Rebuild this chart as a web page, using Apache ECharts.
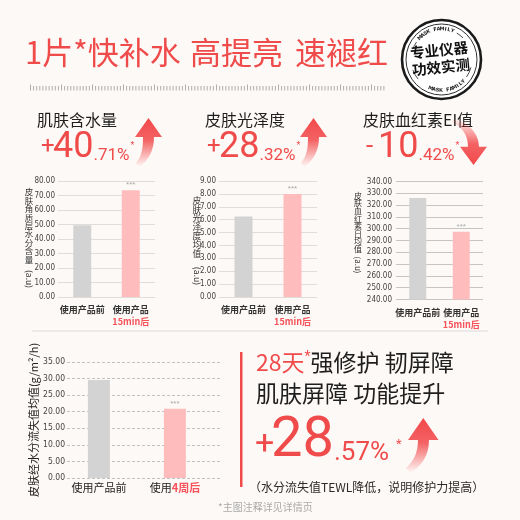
<!DOCTYPE html>
<html><head><meta charset="utf-8">
<script src="https://cdn.jsdelivr.net/npm/echarts@6/dist/echarts.min.js"></script>
<style>html,body{margin:0;padding:0;background:#fdf9f6}#c{width:520px;height:520px}</style>
</head><body><div id="c"></div>
<script>
// ---------- data ----------
const catsTop = ['使用产品前', '使用产品\n15min后'];
const hydration = [49.5, 73.6];      // 皮肤角质层水分含量 (a.u)
const gloss = [6.25, 8.0];            // 皮肤光泽度均值 (a.u)
const erythema = [326, 297.5];        // 皮肤血红素EI均值 (a.u)
const catsTewl = ['使用产品前', '使用4周后'];
const tewl = [29.6, 20.9];            // 皮肤经水分流失值均值 (g/m²/h)
const yRange1 = [0, 80, 10];
const yRange2 = [0, 9, 1];
const yRange3 = [240, 340, 10];
const yRange4 = [0, 35, 5];

// ---------- styles ----------
const RED = '#f04b4b';
const CJK = '"Noto Sans CJK SC", sans-serif';
const NUM = 'Roboto, sans-serif';
const NARROW = '"DejaVu Sans Condensed", sans-serif';
const barColors = ['#d3d3d3', '#ffbcbd'];

const chart = echarts.init(document.getElementById('c'), null, {renderer: 'canvas'});

function t(x, y, text, size, color, extra) {
  const st = Object.assign({text: text, fontSize: size, fill: color, fontFamily: CJK,
    align: 'left', textAlign: 'left', verticalAlign: 'middle', textVerticalAlign: 'middle'}, extra || {});
  return {type: 'text', x: x, y: y, style: st, silent: true};
}

function topLabel(v) {
  const p = v.split('\n');
  return p.length > 1 ? p[0] + '\n{r|' + p[1] + '}' : v;
}

function yAxis(gi, r, dashed, color, size) {
  return {
    type: 'value', gridIndex: gi, min: r[0], max: r[1], interval: r[2],
    axisLine: {show: false}, axisTick: {show: false},
    axisLabel: {fontFamily: NARROW, fontSize: size || 8, color: '#444', margin: gi === 3 ? 2 : (gi === 2 ? 4 : 3),
      formatter: v => v.toFixed(2)},
    splitLine: {lineStyle: {color: color, width: 1, type: dashed ? [3, 2] : 'solid'}}
  };
}

function xTop(gi) {
  return {
    type: 'category', gridIndex: gi, data: catsTop,
    axisLine: {show: false}, axisTick: {show: false},
    axisLabel: {interval: 0, margin: 7, fontSize: 9, fontWeight: 'bold', color: '#333', fontFamily: CJK, lineHeight: 12,
      formatter: topLabel,
      rich: {r: {color: '#f5525a', fontSize: 9, fontWeight: 'bold', fontFamily: CJK, lineHeight: 12}}}
  };
}

function barData(vals) {
  return vals.map((v, i) => ({
    value: v, itemStyle: {color: barColors[i]},
    label: i === 1 ? {show: true, position: 'top', distance: 1, formatter: '***', fontSize: 8, color: '#aaa'} : {show: false}
  }));
}

// ---------- decoration ----------
const deco = [];
// title
deco.push(t(25, 52, '1片*快补水', 31, RED));
deco.push(t(190, 52, '高提亮', 31, RED));
deco.push(t(295, 52, '速褪红', 31, RED));
// ruler
for (let i = 0; i <= 114; i++) {
  const x = 30.5 + i * 3.1;
  const tall = i % 10 === 0;
  deco.push({type: 'line', silent: true, shape: {x1: x, y1: tall ? 84.5 : 86, x2: x, y2: 90.5},
    style: {stroke: '#9a9a9a', lineWidth: 0.8}});
}
// stamp
const scx = 441.5, scy = 59.5;
deco.push({type: 'circle', silent: true, shape: {cx: scx, cy: scy, r: 39.5}, style: {fill: '#fff', stroke: '#1a1a1a', lineWidth: 2.6}});
deco.push({type: 'circle', silent: true, shape: {cx: scx, cy: scy, r: 35.5}, style: {fill: 'none', stroke: '#1a1a1a', lineWidth: 0.9}});
function arcText(str, r, centerDeg, spanDeg, top) {
  const n = str.length;
  for (let i = 0; i < n; i++) {
    const f = (i + 0.5) / n - 0.5;
    const deg = top ? centerDeg - f * spanDeg : centerDeg + f * spanDeg;
    const a = deg * Math.PI / 180;
    deco.push({type: 'text', silent: true, x: scx + r * Math.cos(a), y: scy - r * Math.sin(a),
      rotation: top ? a - Math.PI / 2 : a - 1.5 * Math.PI,
      style: {text: str[i], fontSize: 5, fontWeight: 'bold', fill: '#1a1a1a', fontFamily: 'DejaVu Sans, sans-serif',
        align: 'center', textAlign: 'center', verticalAlign: 'middle', textVerticalAlign: 'middle'}});
  }
}
arcText('MASK FAMILY', 30.5, 102, 72, true);
arcText('MASK FAMILY', 31, 282, 72, false);
function sArc(d1, d2, r) {
  deco.push({type: 'arc', silent: true, shape: {cx: scx, cy: scy, r: r, startAngle: -d2 * Math.PI / 180, endAngle: -d1 * Math.PI / 180},
    style: {stroke: '#1a1a1a', lineWidth: 0.8, fill: 'none'}});
}
sArc(145, 160, 30.5); sArc(45, 60, 30.5); sArc(200, 220, 30.5); sArc(325, 345, 30.5);
deco.push({type: 'text', silent: true, x: 439, y: 50, rotation: 0.1,
  style: {text: '专业仪器', fontSize: 14.5, fontWeight: 'bold', fill: '#111', fontFamily: CJK, align: 'center', textAlign: 'center', verticalAlign: 'middle', textVerticalAlign: 'middle'}});
deco.push({type: 'text', silent: true, x: 441, y: 67, rotation: 0.1,
  style: {text: '功效实测', fontSize: 14.5, fontWeight: 'bold', fill: '#111', fontFamily: CJK, align: 'center', textAlign: 'center', verticalAlign: 'middle', textVerticalAlign: 'middle'}});

// panel headers
deco.push(t(37, 120, '肌肤含水量', 16, '#1e1e1e'));
deco.push(t(205, 120, '皮肤光泽度', 16, '#1e1e1e'));
deco.push(t(363, 120, '皮肤血红素EI值', 16, '#1e1e1e'));
// percentages
function pct(x0, sign, big, small, yc, bs, ss, signSize) {
  deco.push(t(x0, yc - 1, sign, signSize, RED, {fontFamily: NUM}));
  deco.push(t(x0 + 12, yc, big, bs, RED, {fontFamily: NUM}));
  const bw = big.length * 0.5615 * bs;
  deco.push(t(x0 + 12 + bw, yc + 8, small, ss, RED, {fontFamily: NUM}));
  const sw = (0.263 + (small.length - 2) * 0.5615 + 0.732) * ss;
  deco.push(t(x0 + 12 + bw + sw + 1, yc - 2, '*', 9, RED, {fontFamily: NUM}));
}
pct(41, '+', '40', '.71%', 148, 36, 17, 24);
pct(207, '+', '28', '.32%', 148, 36, 17, 24);
pct(366, '-', '10', '.42%', 148, 36, 17, 26);

// arrows (registered path shapes)
function grad(down) {
  return new echarts.graphic.LinearGradient(0, 0, 0, 1, down ?
    [{offset: 0, color: 'rgba(242,72,74,0)'}, {offset: 0.55, color: 'rgba(242,72,74,0.85)'}, {offset: 1, color: '#f2484a'}] :
    [{offset: 0, color: '#f2484a'}, {offset: 0.45, color: 'rgba(242,72,74,0.85)'}, {offset: 1, color: 'rgba(242,72,74,0)'}]);
}
const arrowPaths = [
  ['arrowA', 'M148.5,118 L162,137 L154,137 C154,150 149,160 139,167 L136,163 C142,156 143,148 143,137 L135,137 Z', false],
  ['arrowB', 'M313.5,118 L327,137 L319,137 C319,150 314,160 304,167 L301,163 C307,156 308,148 308,137 L300,137 Z', false],
  ['arrowC', 'M473.5,165 L460,146.7 L468,146.7 C468,135 462,127 452,122 L455,118 C468,123 479,133 479,146.7 L487,146.7 Z', true],
  ['arrowD', 'M423.3,418 L438.5,440 L429,440 C429,455 422,466 410,473 L406,468 C414,461 418,452 418,440 L408,440 Z', false]
];
arrowPaths.forEach(p => {
  echarts.graphic.registerShape(p[0], echarts.graphic.extendPath(p[1], {}));
  deco.push({type: p[0], silent: true, style: {fill: grad(p[2])}});
});

// vertical axis names (panels 1-3)
function vName(x, y, chars, lh, size, auY) {
  deco.push({type: 'text', silent: true, x: x, y: y,
    style: {text: chars.split('').join('\n'), fontSize: size, lineHeight: lh, fill: '#333', fontFamily: CJK,
      align: 'center', textAlign: 'center', verticalAlign: 'top', textVerticalAlign: 'top'}});
  deco.push({type: 'text', silent: true, x: x, y: auY, rotation: -Math.PI / 2,
    style: {text: '(a.u)', fontSize: size, fill: '#333', fontFamily: CJK,
      align: 'center', textAlign: 'center', verticalAlign: 'middle', textVerticalAlign: 'middle'}});
}
vName(29, 188, '皮肤角质层水分含量', 8.4, 8.5, 279);
vName(197, 196, '皮肤光泽度均值', 8.8, 8.8, 276);
vName(358, 192, '皮肤血红素日均值', 7.6, 8, 265);

// separator
deco.push({type: 'line', silent: true, shape: {x1: 32, y1: 331, x2: 488, y2: 331}, style: {stroke: '#dcdcdc', lineWidth: 1}});
// bottom right block
deco.push({type: 'rect', silent: true, shape: {x: 240, y: 352, width: 2.5, height: 135}, style: {fill: RED}});
deco.push({type: 'text', silent: true, x: 256, y: 362,
  style: {text: '{r|28天}{s|*}{d|强修护 韧屏障}', fontFamily: CJK, align: 'left', textAlign: 'left', verticalAlign: 'middle', textVerticalAlign: 'middle',
    rich: {r: {fontSize: 23, fill: RED, fontFamily: CJK}, s: {fontSize: 14, fill: RED, fontFamily: NUM, verticalAlign: 'top', padding: [0, 0, 8, 0]}, d: {fontSize: 23, fill: '#1e1e1e', fontFamily: CJK}}}});
deco.push(t(256, 393, '肌肤屏障 功能提升', 23, '#1e1e1e'));
deco.push(t(255, 445, '+', 34, RED, {fontFamily: NUM}));
deco.push(t(271, 442, '28', 56, RED, {fontFamily: NUM}));
deco.push(t(334, 453, '.57%', 26, RED, {fontFamily: NUM}));
deco.push(t(396, 445, '*', 13, RED, {fontFamily: NUM}));
deco.push(t(249, 487, '（水分流失值TEWL降低，说明修护力提高）', 12, '#2a2a2a'));
deco.push(t(218, 507, '*主图注释详见详情页', 10, '#aaaaaa'));

// ---------- option ----------
const option = {
  backgroundColor: '#fdf9f6',
  animation: false,
  grid: [
    {left: 58, top: 181, width: 97, height: 116},
    {left: 219, top: 181, width: 98, height: 116},
    {left: 396, top: 181.5, width: 87, height: 118},
    {left: 67, top: 362, width: 155, height: 116}
  ],
  xAxis: [
    xTop(0), xTop(1), xTop(2),
    {type: 'value', gridIndex: 3, min: -0.42, max: 1.62,
      axisLine: {show: false}, axisTick: {show: false}, splitLine: {show: false},
      axisLabel: {customValues: [0, 1], margin: 4, fontSize: 11, color: '#222', fontFamily: CJK,
        formatter: v => catsTewl[Math.round(v)].replace('4周后', '{r|4周后}'),
        rich: {r: {color: '#f5525a', fontSize: 11, fontWeight: 'bold', fontFamily: CJK}}}}
  ],
  yAxis: [
    yAxis(0, yRange1, false, '#e0dcda'),
    yAxis(1, yRange2, false, '#e0dcda'),
    yAxis(2, yRange3, false, '#c8c4c2'),
    Object.assign(yAxis(3, yRange4, true, '#c2c2c2', 8.5), {
      name: '皮肤经水分流失值均值(g/m²/h)', nameLocation: 'middle', nameGap: 27,
      nameTextStyle: {fontSize: 11, color: '#222', fontFamily: CJK}})
  ],
  series: [
    {type: 'bar', xAxisIndex: 0, yAxisIndex: 0, barWidth: 18, data: barData(hydration)},
    {type: 'bar', xAxisIndex: 1, yAxisIndex: 1, barWidth: 18, data: barData(gloss)},
    {type: 'bar', xAxisIndex: 2, yAxisIndex: 2, barWidth: 17, data: barData(erythema)},
    {type: 'bar', xAxisIndex: 3, yAxisIndex: 3, barWidth: 22,
      data: tewl.map((v, i) => ({value: [i, v], itemStyle: {color: barColors[i]},
        label: i === 1 ? {show: true, position: 'top', distance: 1, formatter: '***', fontSize: 8, color: '#aaa'} : {show: false}}))}
  ],
  graphic: {elements: deco}
};
chart.setOption(option);
</script></body></html>
